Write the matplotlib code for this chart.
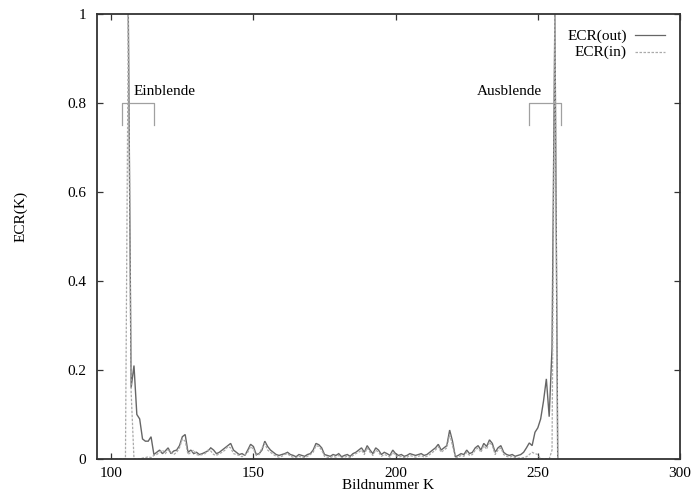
import numpy as np
import matplotlib
matplotlib.use("Agg")
import matplotlib.pyplot as plt

plt.rcParams["font.family"] = ["Liberation Serif", "DejaVu Serif"]

# ECR(out): Werte ab Bild 106
out_start = 106
ecr_out = [
    1.0, 0.16, 0.21, 0.10, 0.09, 0.045, 0.04, 0.04, 0.05, 0.01,        # 106-115
    0.015, 0.02, 0.012, 0.018, 0.025, 0.012, 0.018, 0.02, 0.03, 0.05,  # 116-125
    0.055, 0.015, 0.02, 0.012, 0.015, 0.01, 0.012, 0.015, 0.018, 0.025,  # 126-135
    0.02, 0.012, 0.015, 0.02, 0.025, 0.03, 0.035, 0.02, 0.015, 0.01,   # 136-145
    0.012, 0.008, 0.02, 0.033, 0.028, 0.01, 0.012, 0.02, 0.04, 0.028,  # 146-155
    0.02, 0.015, 0.01, 0.008, 0.01, 0.012, 0.015, 0.01, 0.008, 0.005,  # 156-165
    0.01, 0.008, 0.006, 0.01, 0.012, 0.02, 0.035, 0.032, 0.025, 0.01,  # 166-175
    0.008, 0.006, 0.01, 0.008, 0.012, 0.005, 0.008, 0.01, 0.006, 0.012,  # 176-185
    0.015, 0.02, 0.025, 0.015, 0.03, 0.02, 0.012, 0.025, 0.02, 0.01,  # 186-195
    0.015, 0.012, 0.008, 0.02, 0.012, 0.008, 0.01, 0.006, 0.008, 0.012,  # 196-205
    0.01, 0.008, 0.01, 0.012, 0.008, 0.01, 0.015, 0.02, 0.025, 0.033,  # 206-215
    0.02, 0.025, 0.03, 0.065, 0.04, 0.005, 0.008, 0.012, 0.01, 0.02,   # 216-225
    0.012, 0.015, 0.025, 0.03, 0.02, 0.035, 0.028, 0.043, 0.035, 0.015,  # 226-235
    0.025, 0.03, 0.015, 0.01, 0.008, 0.01, 0.006, 0.008, 0.01, 0.015,  # 236-245
    0.025, 0.036, 0.03, 0.06, 0.07, 0.09, 0.13, 0.18, 0.095, 0.25,     # 246-255
    1.0, 0.0,                                                          # 256-257
]

# ECR(in): Werte ab Bild 100
in_start = 100
ecr_in = [
    0, 0, 0, 0, 0, 0, 1.0, 0.15, 0.0, 0.0,                             # 100-109
    0.0, 0.002, 0.003, 0.005, 0.003, 0.008, 0.01, 0.015, 0.02, 0.012,  # 110-119
    0.02, 0.015, 0.01, 0.015, 0.025, 0.045, 0.04, 0.01, 0.015, 0.02,   # 120-129
    0.01, 0.008, 0.01, 0.012, 0.02, 0.018, 0.01, 0.008, 0.012, 0.015,  # 130-139
    0.02, 0.028, 0.025, 0.012, 0.01, 0.008, 0.005, 0.01, 0.015, 0.028,  # 140-149
    0.022, 0.008, 0.01, 0.025, 0.035, 0.02, 0.015, 0.01, 0.006, 0.004,  # 150-159
    0.006, 0.01, 0.012, 0.006, 0.004, 0.003, 0.006, 0.004, 0.003, 0.006,  # 160-169
    0.01, 0.015, 0.03, 0.028, 0.02, 0.006, 0.004, 0.003, 0.006, 0.004,  # 170-179
    0.008, 0.003, 0.004, 0.006, 0.003, 0.008, 0.012, 0.015, 0.02, 0.01,  # 180-189
    0.025, 0.015, 0.008, 0.02, 0.015, 0.006, 0.01, 0.008, 0.004, 0.015,  # 190-199
    0.008, 0.004, 0.006, 0.003, 0.004, 0.008, 0.006, 0.004, 0.006, 0.008,  # 200-209
    0.004, 0.006, 0.01, 0.015, 0.02, 0.028, 0.015, 0.02, 0.025, 0.055,  # 210-219
    0.03, 0.003, 0.004, 0.008, 0.006, 0.015, 0.008, 0.01, 0.02, 0.025,  # 220-229
    0.015, 0.03, 0.022, 0.038, 0.03, 0.01, 0.02, 0.025, 0.01, 0.006,   # 230-239
    0.004, 0.006, 0.003, 0.002, 0.002, 0.003, 0.005, 0.01, 0.015, 0.012,  # 240-249
    0.01, 0.0, 0.0, 0.0, 0.0, 0.02, 1.0, 0.0,                          # 250-257
]

# Klammern fuer Ein-/Ausblendung (Bildbereich)
fade_names = ["Einblende", "Ausblende"]
fade_ranges = [(103.7, 114.9), (246.9, 258.1)]
bracket_top, bracket_bottom = 0.8, 0.75

fig = plt.figure(figsize=(6.91, 4.97), dpi=100)
ax = fig.add_axes([0.1404, 0.0765, 0.8437, 0.8954])

x_out = np.arange(out_start, out_start + len(ecr_out))
x_in = np.arange(in_start, in_start + len(ecr_in))
ax.plot(x_out, ecr_out, color="#666666", lw=1.0, solid_joinstyle="miter")
ax.plot(x_in, ecr_in, color="#aaaaaa", lw=0.9, ls=(0, (2, 1.2)))

for name, (a, b) in zip(fade_names, fade_ranges):
    ax.plot([a, a, b, b], [bracket_bottom, bracket_top, bracket_top, bracket_bottom],
            color="#a0a0a0", lw=0.9)
ax.text(108.0, 0.812, fade_names[0], fontsize=11, ha="left", va="bottom")
ax.text(251.5, 0.812, fade_names[1], fontsize=11, ha="right", va="bottom")

# Legende wie bei gnuplot: Text rechtsbuendig, Linie rechts daneben
ax.text(0.909, 0.951, "ECR(out)", transform=ax.transAxes, fontsize=11,
        ha="right", va="center")
ax.text(0.909, 0.913, "ECR(in)", transform=ax.transAxes, fontsize=11,
        ha="right", va="center")
ax.plot([0.923, 0.974], [0.953, 0.953], transform=ax.transAxes,
        color="#666666", lw=0.9)
ax.plot([0.923, 0.974], [0.915, 0.915], transform=ax.transAxes,
        color="#aaaaaa", lw=0.9, ls=(0, (2, 1.2)))

ax.set_xlim(95, 300)
ax.set_ylim(0, 1)
ax.set_xticks([100, 150, 200, 250, 300])
ax.set_yticks([0, 0.2, 0.4, 0.6, 0.8, 1.0])
ax.set_yticklabels(["0", "0.2", "0.4", "0.6", "0.8", "1"])
ax.tick_params(direction="in", length=4, width=0.9, top=True, right=True,
               labelsize=11, color="#333333")
ax.tick_params(axis="x", pad=6)
ax.tick_params(axis="y", pad=8)
for s in ax.spines.values():
    s.set_linewidth(1.3)
    s.set_color("#333333")

ax.set_xlabel("Bildnummer K", fontsize=11)
ax.xaxis.set_label_coords(0.5, -0.046)
ax.set_ylabel("ECR(K)", fontsize=11)
ax.yaxis.set_label_coords(-0.12, 0.544)

fig.savefig("out.png", dpi=100)
